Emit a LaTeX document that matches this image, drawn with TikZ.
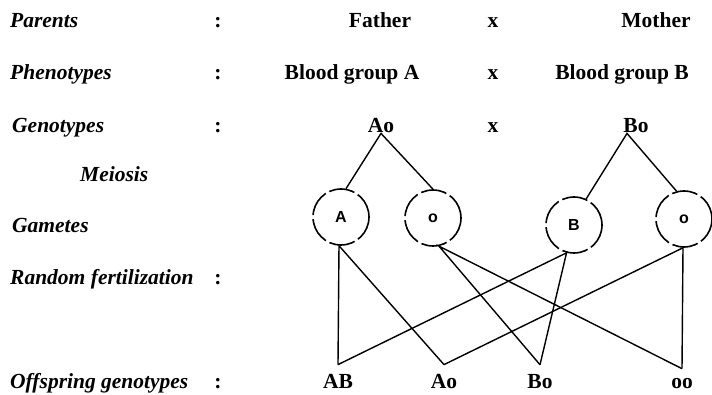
\documentclass[tikz,border=0pt]{standalone}
\usepackage{fontspec}
\setmainfont{Liberation Serif}
\newfontfamily\gamfont{Liberation Sans}
\usetikzlibrary{positioning}

\begin{document}
\begin{tikzpicture}[
        x=1pt, y=-1pt,
        rowname/.style={anchor=base west, inner sep=0pt, font=\fontsize{21.5}{25}\selectfont\bfseries\itshape},
        sep/.style={anchor=base, inner sep=0pt, font=\fontsize{21.5}{25}\selectfont\bfseries},
        geno/.style={anchor=base, inner sep=0pt, font=\fontsize{21.5}{25}\selectfont\bfseries},
        child/.style={geno, inner ysep=9pt},
        gamete/.style={circle, draw, line width=1.6pt, dash pattern=on 26pt off 4pt, minimum size=56pt, inner sep=0pt, font=\gamfont\fontsize{16}{18}\selectfont\bfseries},
        cross/.style={line width=1.4pt}
    ]
        \useasboundingbox (0,0) rectangle (712,395);

        % row names
        \node[rowname] (parents) at (10,28) {Parents};
        \node[rowname] (pheno) at (10,80) {Phenotypes};
        \node[rowname] (geno) at (12,133) {Genotypes};
        \node[rowname] (meiosis) at (80,182) {Meiosis};
        \node[rowname] (gametes) at (12,233) {Gametes};
        \node[rowname] (fert) at (10,285) {Random fertilization};
        \node[rowname] (offspring) at (10,388) {Offspring genotypes};

        \foreach \y/\n in {28/c1, 80/c2, 133/c3, 285/c4, 388/c5}
            \node[sep] (\n) at (218,\y) {:};

        % parents
        \node[geno] (father) at (380,28) {Father};
        \node[sep] (x1) at (493,28) {x};
        \node[geno] (mother) at (656,28) {Mother};

        \node[geno] (bga) at (352,80) {Blood group A};
        \node[sep] (x2) at (493,80) {x};
        \node[geno] (bgb) at (622,80) {Blood group B};

        \node[geno] (ao) at (381,133) {Ao};
        \node[sep] (x3) at (493,133) {x};
        \node[geno] (bo) at (636,133) {Bo};
        \coordinate (boapex) at ([xshift=-9pt]bo.south);

        % gametes
        \node[gamete] (ga) at (341,217) {A};
        \node[gamete] (go) at (433,218) {o};
        \node[gamete] (gb) at (574,225) {B};
        \node[gamete] (gz) at (684,219) {o};

        % offspring
        \node[child] (kab) at (338,388) {AB};
        \node[child] (kao) at (444,388) {Ao};
        \node[child] (kbo) at (540,388) {Bo};
        \node[child] (koo) at (682,388) {oo};

        % meiosis
        \draw[cross] (ga.80) -- (ao.south) -- (go.north);
        \draw[cross] (gb.65) -- (boapex) -- (gz.105);

        % fertilization
        \draw[cross] (kab.north) -- (ga.266) -- (kao.north);
        \draw[cross] (kbo.north) -- (go.-78) -- (koo.north);
        \draw[cross] (kab.north) -- (gb.-105) -- (kbo.north);
        \draw[cross] (kao.north) -- (gz.-92) -- (koo.north);

    \end{tikzpicture}
\end{document}
